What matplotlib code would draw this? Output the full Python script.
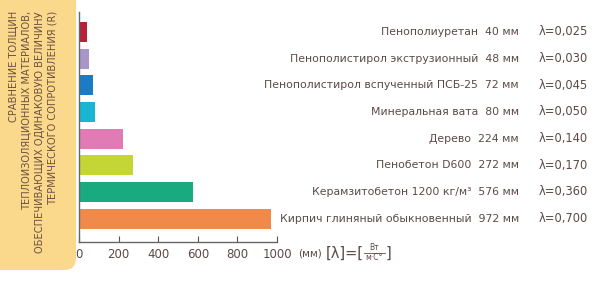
import matplotlib.pyplot as plt
from matplotlib.patches import FancyBboxPatch
from matplotlib.transforms import blended_transform_factory

# данные: толщина слоя (мм) и теплопроводность
materialy = ['Пенополиуретан', 'Пенополистирол экструзионный',
             'Пенополистирол вспученный ПСБ-25', 'Минеральная вата',
             'Дерево', 'Пенобетон D600', 'Керамзитобетон 1200 кг/м³',
             'Кирпич глиняный обыкновенный']
tolshina = [40, 48, 72, 80, 224, 272, 576, 972]
lyambda = ['0,025', '0,030', '0,045', '0,050', '0,140', '0,170', '0,360', '0,700']
tiki = [0, 200, 400, 600, 800, 1000]
cveta = ['#b5213a', '#a995c9', '#1a7cc6', '#1ab5d3',
         '#e07bb5', '#c4d636', '#1aaa7f', '#f08a4b']

tekst = '#5a4a48'

fig = plt.figure(figsize=(5.96, 2.83), dpi=100)

# желтая плашка слева
panel = FancyBboxPatch((-0.05, 1 - 270 / 283), 76 / 596 + 0.05, 270 / 283 + 0.1,
                       boxstyle='round,pad=0,rounding_size=0.02',
                       mutation_aspect=596 / 283,
                       transform=fig.transFigure, facecolor='#fbd98c',
                       edgecolor='none', zorder=0)
fig.patches.append(panel)
fig.text(33 / 596, 1 - 11 / 283,
         'СРАВНЕНИЕ ТОЛЩИН\nТЕПЛОИЗОЛЯЦИОННЫХ МАТЕРИАЛОВ,\n'
         'ОБЕСПЕЧИВАЮЩИХ ОДИНАКОВУЮ ВЕЛИЧИНУ\nТЕРМИЧЕСКОГО СОПРОТИВЛЕНИЯ (R)',
         rotation=90, ha='center', va='top', multialignment='right',
         fontsize=7.1, color='#6b5040', linespacing=1.4)

ax = fig.add_axes([79 / 596, 1 - 242 / 283, 198 / 596, 230 / 283])
pos = list(range(len(materialy)))
ax.barh(pos, tolshina, height=0.75, color=cveta)
ax.set_xlim(0, 1000)
ax.set_ylim(7.88, -0.75)
ax.set_yticks([])
ax.set_xticks(tiki)
ax.set_xticklabels([str(t) for t in tiki])
ax.tick_params(axis='x', direction='in', length=4, color='#555555',
               labelsize=8.5, labelcolor=tekst, pad=4)
for s in ['top', 'right']:
    ax.spines[s].set_visible(False)
for s in ['left', 'bottom']:
    ax.spines[s].set_color('#666666')
    ax.spines[s].set_linewidth(1.0)

# подписи справа
tr = blended_transform_factory(fig.transFigure, ax.transData)
for i, (m, t, l) in enumerate(zip(materialy, tolshina, lyambda)):
    ax.text(519 / 596, i, f'{m}  {t} мм', transform=tr, ha='right', va='center',
            fontsize=7.8, color=tekst)
    ax.text(539 / 596, i, f'λ={l}', transform=tr, ha='left', va='center',
            fontsize=8.3, color=tekst)

# единицы измерения
yy = 1 - 253 / 283
fig.text(298 / 596, yy, '(мм)', ha='left', va='center', fontsize=7.5, color=tekst)
fig.text(326 / 596, yy, '[λ]=[', ha='left', va='center', fontsize=10.5, color=tekst)
fig.text(374 / 596, 1 - 248 / 283, 'Вт', ha='center', va='center', fontsize=5.5, color=tekst)
fig.text(374 / 596, 1 - 258 / 283, 'м·С°', ha='center', va='center', fontsize=5.5, color=tekst)
fig.add_artist(plt.Line2D([364 / 596, 385 / 596], [1 - 253 / 283, 1 - 253 / 283],
                          color=tekst, linewidth=0.6, transform=fig.transFigure))
fig.text(386 / 596, yy, ']', ha='left', va='center', fontsize=10.5, color=tekst)

plt.savefig('out.png', dpi=100)
